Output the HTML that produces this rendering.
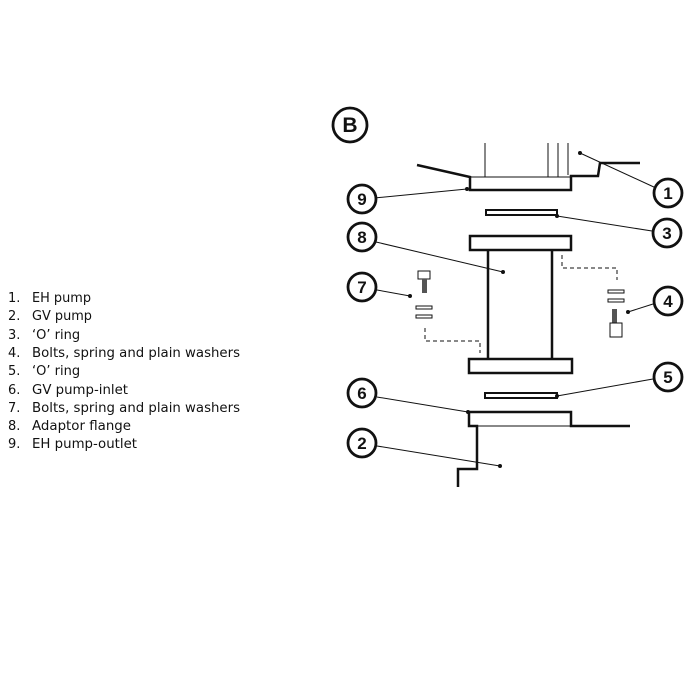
<!DOCTYPE html>
<html><head><meta charset="utf-8"><style>
html,body{margin:0;padding:0;background:#fff;}
svg{display:block;}
text{font-family:"DejaVu Sans","Liberation Sans",sans-serif;font-size:13px;fill:#111;}
.c{fill:#fff;stroke:#111;stroke-width:2.8;}
.n{font-family:"Liberation Sans",sans-serif;font-weight:bold;font-size:17px;text-anchor:middle;}
.l{stroke:#111;stroke-width:1;fill:none;}
.t{stroke:#111;stroke-width:2.5;fill:none;}
.d{stroke:#111;stroke-width:1;fill:none;stroke-dasharray:4,3;}
</style></head><body>
<svg width="700" height="700" viewBox="0 0 700 700" xmlns="http://www.w3.org/2000/svg">
<g>
<text x="8" y="302">1.</text><text x="32" y="302" textLength="59" lengthAdjust="spacingAndGlyphs">EH pump</text>
<text x="8" y="320">2.</text><text x="32" y="320" textLength="60" lengthAdjust="spacingAndGlyphs">GV pump</text>
<text x="8" y="339">3.</text><text x="32" y="339">‘O’ ring</text>
<text x="8" y="357">4.</text><text x="32" y="357" textLength="208" lengthAdjust="spacingAndGlyphs">Bolts, spring and plain washers</text>
<text x="8" y="375">5.</text><text x="32" y="375">‘O’ ring</text>
<text x="8" y="394">6.</text><text x="32" y="394" textLength="96" lengthAdjust="spacingAndGlyphs">GV pump-inlet</text>
<text x="8" y="412">7.</text><text x="32" y="412" textLength="208" lengthAdjust="spacingAndGlyphs">Bolts, spring and plain washers</text>
<text x="8" y="430">8.</text><text x="32" y="430" textLength="99" lengthAdjust="spacingAndGlyphs">Adaptor flange</text>
<text x="8" y="448">9.</text><text x="32" y="448" textLength="105" lengthAdjust="spacingAndGlyphs">EH pump-outlet</text>
</g>
<circle class="c" cx="350" cy="125" r="17"/>
<text class="n" x="350" y="132" style="font-size:21px">B</text>
<g class="l"><line x1="485" y1="143" x2="485" y2="177"/><line x1="548" y1="143" x2="548" y2="177"/><line x1="558" y1="143" x2="558" y2="177"/><line x1="568" y1="143" x2="568" y2="175"/></g>
<polyline class="t" points="417,165 470,177 470,190 571,190 571,176 598,176 600,163 640,163"/>
<line class="l" x1="470" y1="177" x2="571" y2="177"/>
<rect class="t" x="486" y="210" width="71" height="5" style="stroke-width:2"/>
<rect class="t" x="470" y="236" width="101" height="14"/>
<line class="t" x1="488" y1="250" x2="488" y2="359"/>
<line class="t" x1="552" y1="250" x2="552" y2="359"/>
<rect class="t" x="469" y="359" width="103" height="14"/>
<rect class="l" x="418" y="271" width="12" height="8"/>
<rect x="422" y="279" width="5" height="14" fill="#555"/>
<rect class="l" x="416" y="306" width="16" height="3"/>
<rect class="l" x="416" y="315" width="16" height="3"/>
<polyline class="d" points="425,328 425,341 480,341 480,353"/>
<polyline class="d" points="562,255 562,268 617,268 617,280"/>
<rect class="l" x="608" y="290" width="16" height="3"/>
<rect class="l" x="608" y="299" width="16" height="3"/>
<rect x="612" y="309" width="5" height="14" fill="#555"/>
<rect class="l" x="610" y="323" width="12" height="14"/>
<rect class="t" x="485" y="393" width="72" height="5" style="stroke-width:2"/>
<polyline class="t" points="630,426 571,426 571,412 469,412 469,426 477,426 477,469 458,469 458,487"/>
<line class="l" x1="477" y1="426" x2="571" y2="426"/>
<g class="l">
<line x1="580" y1="153" x2="656" y2="188"/>
<line x1="374" y1="198" x2="467" y2="189"/>
<line x1="557" y1="216" x2="652" y2="231"/>
<line x1="376" y1="242" x2="503" y2="272"/>
<line x1="377" y1="290" x2="410" y2="296"/>
<line x1="628" y1="312" x2="653" y2="304"/>
<line x1="557" y1="396" x2="653" y2="379"/>
<line x1="377" y1="397" x2="468" y2="412"/>
<line x1="377" y1="446" x2="500" y2="466"/>
</g>
<g fill="#111">
<circle cx="580" cy="153" r="2"/><circle cx="467" cy="189" r="2"/><circle cx="557" cy="216" r="2"/>
<circle cx="503" cy="272" r="2"/><circle cx="410" cy="296" r="2"/><circle cx="628" cy="312" r="2"/>
<circle cx="557" cy="396" r="2"/><circle cx="468" cy="412" r="2"/><circle cx="500" cy="466" r="2"/>
</g>
<circle class="c" cx="668" cy="193" r="14"/><text class="n" x="668" y="199">1</text>
<circle class="c" cx="362" cy="199" r="14"/><text class="n" x="362" y="205">9</text>
<circle class="c" cx="667" cy="233" r="14"/><text class="n" x="667" y="239">3</text>
<circle class="c" cx="362" cy="237" r="14"/><text class="n" x="362" y="243">8</text>
<circle class="c" cx="362" cy="287" r="14"/><text class="n" x="362" y="293">7</text>
<circle class="c" cx="668" cy="301" r="14"/><text class="n" x="668" y="307">4</text>
<circle class="c" cx="668" cy="377" r="14"/><text class="n" x="668" y="383">5</text>
<circle class="c" cx="362" cy="393" r="14"/><text class="n" x="362" y="399">6</text>
<circle class="c" cx="362" cy="443" r="14"/><text class="n" x="362" y="449">2</text>
</svg>
</body></html>
